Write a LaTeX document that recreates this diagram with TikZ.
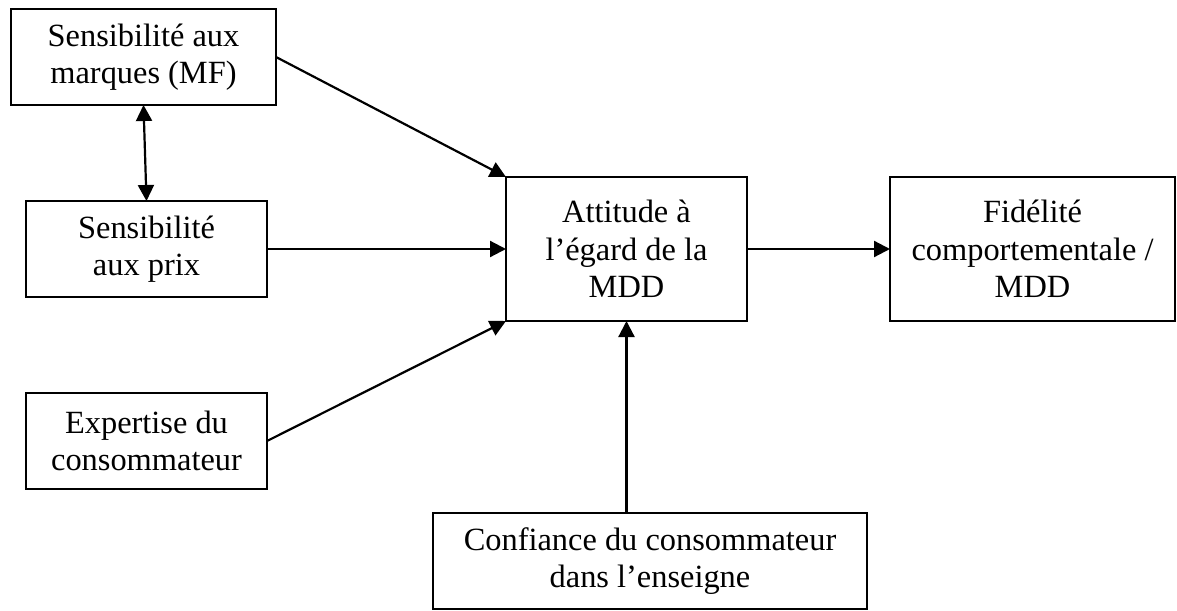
\documentclass[tikz,border=0pt]{standalone}
\usepackage{fontspec}
\setmainfont{Liberation Serif}
\usetikzlibrary{shapes,arrows.meta}
\tikzstyle{boite}=[rectangle,draw,line width=1.1pt,
fill=white,text=black,font=\fontsize{16.2}{18.75}\selectfont,align=center,
inner sep=0pt,outer sep=0pt]
\tikzstyle{fleche}=[line width=1.1pt,-{Triangle[length=8pt,width=8pt]}]
\begin{document}
\begin{tikzpicture}[x=0.5pt,y=-0.5pt]
      \useasboundingbox (0,0) rectangle (1177,610);
      \node[boite,minimum width=132.5pt,minimum height=48pt] (MF) at (143.5,57) {Sensibilité aux\\marques (MF)};
      \node[boite,minimum width=120.5pt,minimum height=48pt] (P) at (146.5,249) {Sensibilité\\aux prix};
      \node[boite,minimum width=120.5pt,minimum height=48pt] (E) at (146.5,441) {Expertise du\\consommateur};
      \node[boite,minimum width=120.5pt,minimum height=72pt] (A) at (626.5,249) {Attitude à\\l’égard de la\\MDD};
      \node[boite,minimum width=142.5pt,minimum height=72pt] (F) at (1032.5,249) {Fidélité\\comportementale /\\MDD};
      \node[boite,minimum width=217pt,minimum height=48pt] (C) at (650,561) {Confiance du consommateur\\dans l’enseigne};

      \draw[fleche,{Triangle[length=8pt,width=8pt]}-{Triangle[length=8pt,width=8pt]}] (MF.south) -- (P.north);
      \draw[fleche] (MF.east) -- (A.north west);
      \draw[fleche] (P.east) -- (A.west);
      \draw[fleche] (E.east) -- (A.south west);
      \draw[fleche] (C.north -| A.south) -- (A.south);
      \draw[fleche] (A.east) -- (F.west);
\end{tikzpicture}
\end{document}
